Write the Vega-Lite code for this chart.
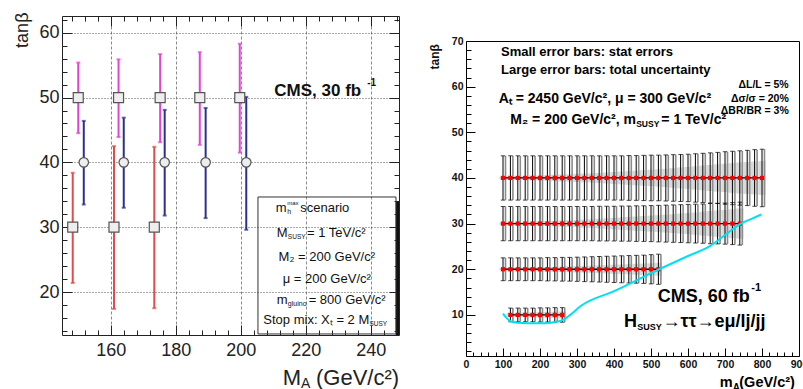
{
"$schema": "https://vega.github.io/schema/vega-lite/v6.json",
"padding": {"left": 12, "top": 10, "right": 0, "bottom": 0},
"background": "white",
"config": {"font": "Liberation Sans", "view": {"stroke": null}},
"datasets": {
"leftbars": [
{"s":"30","x":148.3,"y":30,"lo":21.4,"hi":38.4},
{"s":"30","x":161.0,"y":30,"lo":17.4,"hi":42.5},
{"s":"30","x":173.4,"y":30,"lo":17.5,"hi":42.4},
{"s":"50","x":150.0,"y":50,"lo":44.5,"hi":55.4},
{"s":"50","x":162.4,"y":50,"lo":43.9,"hi":55.9},
{"s":"50","x":175.2,"y":50,"lo":43.1,"hi":56.7},
{"s":"50","x":187.4,"y":50,"lo":42.7,"hi":57.0},
{"s":"50","x":199.7,"y":50,"lo":41.5,"hi":58.3},
{"s":"40","x":151.7,"y":40,"lo":33.5,"hi":46.4},
{"s":"40","x":164.0,"y":40,"lo":33.0,"hi":46.9},
{"s":"40","x":176.6,"y":40,"lo":31.8,"hi":48.1},
{"s":"40","x":189.2,"y":40,"lo":31.4,"hi":48.4},
{"s":"40","x":201.7,"y":40,"lo":29.6,"hi":50.1}
],
"right": [
{"g":40,"x":100,"lo":35.15,"hi":44.85,"slo":39.7,"shi":40.3},
{"g":40,"x":120,"lo":35.15,"hi":44.85,"slo":39.65,"shi":40.35},
{"g":40,"x":140,"lo":35.15,"hi":44.85,"slo":39.6,"shi":40.4},
{"g":40,"x":160,"lo":35.15,"hi":44.85,"slo":39.55,"shi":40.45},
{"g":40,"x":180,"lo":35.15,"hi":44.85,"slo":39.5,"shi":40.5},
{"g":40,"x":200,"lo":35.15,"hi":44.85,"slo":39.45,"shi":40.55},
{"g":40,"x":220,"lo":35.15,"hi":44.85,"slo":39.4,"shi":40.6},
{"g":40,"x":240,"lo":35.15,"hi":44.85,"slo":39.3,"shi":40.7},
{"g":40,"x":260,"lo":35.15,"hi":44.85,"slo":39.25,"shi":40.75},
{"g":40,"x":280,"lo":35.15,"hi":44.85,"slo":39.2,"shi":40.8},
{"g":40,"x":300,"lo":35.15,"hi":44.85,"slo":39.1,"shi":40.9},
{"g":40,"x":320,"lo":35.15,"hi":44.85,"slo":39.05,"shi":40.95},
{"g":40,"x":340,"lo":35.15,"hi":44.85,"slo":39.0,"shi":41.0},
{"g":40,"x":360,"lo":35.15,"hi":44.85,"slo":38.9,"shi":41.1},
{"g":40,"x":380,"lo":35.15,"hi":44.85,"slo":38.8,"shi":41.2},
{"g":40,"x":400,"lo":35.15,"hi":44.85,"slo":38.7,"shi":41.3},
{"g":40,"x":420,"lo":35.15,"hi":44.85,"slo":38.6,"shi":41.4},
{"g":40,"x":440,"lo":35.1,"hi":44.9,"slo":38.5,"shi":41.5},
{"g":40,"x":460,"lo":35.1,"hi":44.9,"slo":38.4,"shi":41.6},
{"g":40,"x":480,"lo":35.05,"hi":44.95,"slo":38.3,"shi":41.7},
{"g":40,"x":500,"lo":35.0,"hi":45.0,"slo":38.2,"shi":41.8},
{"g":40,"x":520,"lo":35.0,"hi":45.0,"slo":38.1,"shi":41.9},
{"g":40,"x":540,"lo":34.95,"hi":45.05,"slo":38.0,"shi":42.0},
{"g":40,"x":560,"lo":34.9,"hi":45.1,"slo":37.85,"shi":42.15},
{"g":40,"x":580,"lo":34.85,"hi":45.15,"slo":37.7,"shi":42.3},
{"g":40,"x":600,"lo":34.8,"hi":45.2,"slo":37.6,"shi":42.4},
{"g":40,"x":620,"lo":34.7,"hi":45.3,"slo":37.45,"shi":42.55},
{"g":40,"x":640,"lo":34.6,"hi":45.4,"slo":37.3,"shi":42.7},
{"g":40,"x":660,"lo":34.5,"hi":45.5,"slo":37.15,"shi":42.85},
{"g":40,"x":680,"lo":34.4,"hi":45.6,"slo":37.0,"shi":43.0},
{"g":40,"x":700,"lo":34.25,"hi":45.75,"slo":36.9,"shi":43.1},
{"g":40,"x":720,"lo":34.15,"hi":45.85,"slo":36.75,"shi":43.25},
{"g":40,"x":740,"lo":34.05,"hi":45.95,"slo":36.6,"shi":43.4},
{"g":40,"x":760,"lo":33.95,"hi":46.05,"slo":36.5,"shi":43.5},
{"g":40,"x":780,"lo":33.8,"hi":46.2,"slo":36.4,"shi":43.6},
{"g":40,"x":800,"lo":33.7,"hi":46.3,"slo":36.3,"shi":43.7},
{"g":30,"x":100,"lo":26.25,"hi":33.75,"slo":29.75,"shi":30.25},
{"g":30,"x":120,"lo":26.25,"hi":33.75,"slo":29.7,"shi":30.3},
{"g":30,"x":140,"lo":26.25,"hi":33.75,"slo":29.65,"shi":30.35},
{"g":30,"x":160,"lo":26.25,"hi":33.75,"slo":29.6,"shi":30.4},
{"g":30,"x":180,"lo":26.25,"hi":33.75,"slo":29.55,"shi":30.45},
{"g":30,"x":200,"lo":26.25,"hi":33.75,"slo":29.5,"shi":30.5},
{"g":30,"x":220,"lo":26.25,"hi":33.75,"slo":29.45,"shi":30.55},
{"g":30,"x":240,"lo":26.25,"hi":33.75,"slo":29.4,"shi":30.6},
{"g":30,"x":260,"lo":26.25,"hi":33.75,"slo":29.3,"shi":30.7},
{"g":30,"x":280,"lo":26.25,"hi":33.75,"slo":29.25,"shi":30.75},
{"g":30,"x":300,"lo":26.25,"hi":33.75,"slo":29.2,"shi":30.8},
{"g":30,"x":320,"lo":26.25,"hi":33.75,"slo":29.1,"shi":30.9},
{"g":30,"x":340,"lo":26.25,"hi":33.75,"slo":29.05,"shi":30.95},
{"g":30,"x":360,"lo":26.2,"hi":33.8,"slo":28.95,"shi":31.05},
{"g":30,"x":380,"lo":26.2,"hi":33.8,"slo":28.85,"shi":31.15},
{"g":30,"x":400,"lo":26.2,"hi":33.8,"slo":28.75,"shi":31.25},
{"g":30,"x":420,"lo":26.15,"hi":33.85,"slo":28.65,"shi":31.35},
{"g":30,"x":440,"lo":26.15,"hi":33.85,"slo":28.55,"shi":31.45},
{"g":30,"x":460,"lo":26.1,"hi":33.9,"slo":28.45,"shi":31.55},
{"g":30,"x":480,"lo":26.1,"hi":33.9,"slo":28.35,"shi":31.65},
{"g":30,"x":500,"lo":26.05,"hi":33.95,"slo":28.25,"shi":31.75},
{"g":30,"x":520,"lo":26.0,"hi":34.0,"slo":28.15,"shi":31.85},
{"g":30,"x":540,"lo":25.95,"hi":34.05,"slo":28.05,"shi":31.95},
{"g":30,"x":560,"lo":25.9,"hi":34.1,"slo":27.95,"shi":32.05},
{"g":30,"x":580,"lo":25.85,"hi":34.15,"slo":27.8,"shi":32.2},
{"g":30,"x":600,"lo":25.8,"hi":34.2,"slo":27.7,"shi":32.3},
{"g":30,"x":620,"lo":25.75,"hi":34.25,"slo":27.55,"shi":32.45},
{"g":30,"x":640,"lo":25.7,"hi":34.3,"slo":27.4,"shi":32.6},
{"g":30,"x":660,"lo":25.6,"hi":34.4,"slo":27.25,"shi":32.75},
{"g":30,"x":680,"lo":25.55,"hi":34.45,"slo":27.1,"shi":32.9},
{"g":30,"x":700,"lo":25.5,"hi":34.5,"slo":27.0,"shi":33.0},
{"g":30,"x":720,"lo":25.4,"hi":34.6,"slo":26.85,"shi":33.15},
{"g":30,"x":740,"lo":25.3,"hi":34.7,"slo":26.7,"shi":33.3},
{"g":20,"x":100,"lo":17.5,"hi":22.5,"slo":19.8,"shi":20.2},
{"g":20,"x":120,"lo":17.5,"hi":22.5,"slo":19.75,"shi":20.25},
{"g":20,"x":140,"lo":17.5,"hi":22.5,"slo":19.7,"shi":20.3},
{"g":20,"x":160,"lo":17.5,"hi":22.5,"slo":19.65,"shi":20.35},
{"g":20,"x":180,"lo":17.5,"hi":22.5,"slo":19.6,"shi":20.4},
{"g":20,"x":200,"lo":17.5,"hi":22.5,"slo":19.55,"shi":20.45},
{"g":20,"x":220,"lo":17.45,"hi":22.55,"slo":19.5,"shi":20.5},
{"g":20,"x":240,"lo":17.45,"hi":22.55,"slo":19.45,"shi":20.55},
{"g":20,"x":260,"lo":17.4,"hi":22.6,"slo":19.4,"shi":20.6},
{"g":20,"x":280,"lo":17.4,"hi":22.6,"slo":19.35,"shi":20.65},
{"g":20,"x":300,"lo":17.35,"hi":22.65,"slo":19.3,"shi":20.7},
{"g":20,"x":320,"lo":17.3,"hi":22.7,"slo":19.25,"shi":20.75},
{"g":20,"x":340,"lo":17.25,"hi":22.75,"slo":19.2,"shi":20.8},
{"g":20,"x":360,"lo":17.2,"hi":22.8,"slo":19.15,"shi":20.85},
{"g":20,"x":380,"lo":17.15,"hi":22.85,"slo":19.1,"shi":20.9},
{"g":20,"x":400,"lo":17.1,"hi":22.9,"slo":19.0,"shi":21.0},
{"g":20,"x":420,"lo":17.05,"hi":22.95,"slo":18.95,"shi":21.05},
{"g":20,"x":440,"lo":17.0,"hi":23.0,"slo":18.9,"shi":21.1},
{"g":20,"x":460,"lo":16.95,"hi":23.05,"slo":18.8,"shi":21.2},
{"g":20,"x":480,"lo":16.9,"hi":23.1,"slo":18.75,"shi":21.25},
{"g":20,"x":500,"lo":16.8,"hi":23.2,"slo":18.7,"shi":21.3},
{"g":20,"x":520,"lo":16.7,"hi":23.3,"slo":18.6,"shi":21.4},
{"g":10,"x":120,"lo":8.5,"hi":11.5,"slo":9.6,"shi":10.4},
{"g":10,"x":140,"lo":8.5,"hi":11.5,"slo":9.55,"shi":10.45},
{"g":10,"x":160,"lo":8.5,"hi":11.5,"slo":9.5,"shi":10.5},
{"g":10,"x":180,"lo":8.5,"hi":11.5,"slo":9.45,"shi":10.55},
{"g":10,"x":200,"lo":8.45,"hi":11.55,"slo":9.4,"shi":10.6},
{"g":10,"x":220,"lo":8.45,"hi":11.55,"slo":9.35,"shi":10.65},
{"g":10,"x":240,"lo":8.4,"hi":11.6,"slo":9.3,"shi":10.7},
{"g":10,"x":260,"lo":8.4,"hi":11.6,"slo":9.25,"shi":10.75}
],
"cyan": [
{"x":100,"y":10.3},{"x":110,"y":9.3},{"x":122,"y":8.55},{"x":140,"y":8.3},{"x":167,"y":8.2},{"x":212,"y":8.2},{"x":248,"y":8.55},{"x":265,"y":9.0},{"x":280,"y":9.9},{"x":311,"y":12.0},{"x":400,"y":15.2},{"x":522,"y":20.0},{"x":600,"y":22.9},{"x":658,"y":25.0},{"x":700,"y":27.5},{"x":743,"y":30.0},{"x":770,"y":31.0},{"x":798,"y":32.0}
]
},
"bounds": "flush",
"spacing": 67,
"hconcat": [
{
"width": 337, "height": 319,
"view": {"stroke": "#222222", "strokeWidth": 1},
"resolve": {"axis": {"x": "independent", "y": "independent"}},
"layer": [
{"data": {"name": "leftbars"}, "mark": {"type": "rule", "strokeWidth": 2},
 "encoding": {
  "x": {"field": "x", "type": "quantitative", "scale": {"domain": [145, 248.7], "nice": false, "zero": false, "padding": 0},
   "axis": {"orient": "bottom", "values": [160,180,200,220,240], "grid": true, "gridColor": "#8a8a8a", "gridDash": [3,2], "ticks": false, "domain": false, "labelFontSize": 18, "labelColor": "#222222", "labelPadding": 6, "labelFlush": false, "title": null}},
  "y": {"field": "lo", "type": "quantitative", "scale": {"domain": [13.37, 62.58], "nice": false, "zero": false, "padding": 0},
   "axis": {"orient": "left", "values": [20,30,40,50,60], "grid": true, "gridColor": "#555555", "gridDash": [1,2], "ticks": false, "domain": false, "labelFontSize": 18, "labelColor": "#222222", "labelPadding": 3, "title": "tanβ", "titleFontSize": 18, "titleFontWeight": "normal", "titleColor": "#222222", "titleAngle": 270, "titleX": -40, "titleY": -4, "titleAlign": "right", "titleBaseline": "middle"}},
  "y2": {"field": "hi"},
  "color": {"field": "s", "type": "nominal", "scale": {"domain": ["30","50","40"], "range": ["#e34a4a","#e243d6","#2b2f8f"]}, "legend": null}
 }},
{"data": {"name": "leftbars"}, "mark": {"type": "tick", "orient": "horizontal", "size": 4, "thickness": 2},
 "encoding": {
  "x": {"field": "x", "type": "quantitative",
   "axis": {"orient": "bottom", "values": [160,180,200,220,240], "labels": false, "domain": false, "grid": false, "ticks": true, "tickSize": -10, "tickColor": "#222222", "title": null}},
  "y": {"field": "lo", "type": "quantitative",
   "axis": {"orient": "left", "values": [20,30,40,50,60], "labels": false, "domain": false, "grid": false, "ticks": true, "tickSize": -10, "tickColor": "#222222", "title": null}},
  "color": {"field": "s", "type": "nominal", "scale": {"domain": ["30","50","40"], "range": ["#e34a4a","#e243d6","#2b2f8f"]}, "legend": null}
 }},
{"data": {"name": "leftbars"}, "mark": {"type": "tick", "orient": "horizontal", "size": 4, "thickness": 2},
 "encoding": {
  "x": {"field": "x", "type": "quantitative",
   "axis": {"orient": "bottom", "values": [148,152,156,160,164,168,172,176,180,184,188,192,196,200,204,208,212,216,220,224,228,232,236,240,244,248], "labels": false, "domain": false, "grid": false, "ticks": true, "tickSize": -5, "tickColor": "#222222", "title": null}},
  "y": {"field": "hi", "type": "quantitative",
   "axis": {"orient": "left", "values": [14,16,18,20,22,24,26,28,30,32,34,36,38,40,42,44,46,48,50,52,54,56,58,60,62], "labels": false, "domain": false, "grid": false, "ticks": true, "tickSize": -5, "tickColor": "#222222", "title": null}},
  "color": {"field": "s", "type": "nominal", "scale": {"domain": ["30","50","40"], "range": ["#e34a4a","#e243d6","#2b2f8f"]}, "legend": null}
 }},
{"data": {"name": "leftbars"}, "transform": [{"filter": "datum.s != '40'"}],
 "mark": {"type": "point", "shape": "square", "filled": true, "fill": "#eeeeee", "stroke": "#555555", "strokeWidth": 1.2, "size": 100, "opacity": 1},
 "encoding": {
  "x": {"field": "x", "type": "quantitative",
   "axis": {"orient": "top", "values": [160,180,200,220,240], "labels": false, "domain": false, "grid": false, "ticks": true, "tickSize": -10, "tickColor": "#222222", "title": null}},
  "y": {"field": "y", "type": "quantitative",
   "axis": {"orient": "right", "values": [20,30,40,50,60], "labels": false, "domain": false, "grid": false, "ticks": true, "tickSize": -10, "tickColor": "#222222", "title": null}}
 }},
{"data": {"name": "leftbars"}, "transform": [{"filter": "datum.s == '40'"}],
 "mark": {"type": "point", "shape": "circle", "filled": true, "fill": "#eeeeee", "stroke": "#555555", "strokeWidth": 1.2, "size": 90, "opacity": 1},
 "encoding": {
  "x": {"field": "x", "type": "quantitative",
   "axis": {"orient": "top", "values": [148,152,156,160,164,168,172,176,180,184,188,192,196,200,204,208,212,216,220,224,228,232,236,240,244,248], "labels": false, "domain": false, "grid": false, "ticks": true, "tickSize": -5, "tickColor": "#222222", "title": null}},
  "y": {"field": "y", "type": "quantitative",
   "axis": {"orient": "right", "values": [14,16,18,20,22,24,26,28,30,32,34,36,38,40,42,44,46,48,50,52,54,56,58,60,62], "labels": false, "domain": false, "grid": false, "ticks": true, "tickSize": -5, "tickColor": "#222222", "title": null}}
 }},
{"data": {"values": [{}]}, "mark": {"type": "rect", "fill": "#111111"},
 "encoding": {"x": {"datum": 247.7, "type": "quantitative", "axis": null}, "x2": {"datum": 248.7}, "y": {"datum": 13.37, "type": "quantitative", "axis": null}, "y2": {"datum": 33.9}}},
{"data": {"values": [{}]}, "mark": {"type": "rect", "fill": "white", "fillOpacity": 0, "stroke": "#333333", "strokeWidth": 1},
 "encoding": {"x": {"datum": 205.3, "type": "quantitative", "axis": null}, "x2": {"datum": 247.77}, "y": {"datum": 13.53, "type": "quantitative", "axis": null}, "y2": {"datum": 34.66}}},
{"data": {"values": [{}]}, "mark": {"type": "text", "text": "CMS, 30 fb", "align": "left", "baseline": "middle", "fontSize": 17, "fontWeight": "bold", "color": "#111111"},
 "encoding": {"x": {"datum": 210.32, "type": "quantitative", "axis": null}, "y": {"datum": 50.96, "type": "quantitative", "axis": null}}},
{"data": {"values": [{}]}, "mark": {"type": "text", "text": "-1", "align": "left", "baseline": "middle", "fontSize": 10, "fontWeight": "bold", "color": "#111111"},
 "encoding": {"x": {"datum": 238.9, "type": "quantitative", "axis": null}, "y": {"datum": 52.2, "type": "quantitative", "axis": null}}},
{"data": {"values": [{}]}, "mark": {"type": "text", "text": "m", "align": "right", "baseline": "middle", "fontSize": 13, "color": "#111111"},
 "encoding": {"x": {"datum": 214.14, "type": "quantitative", "axis": null}, "y": {"datum": 32.96, "type": "quantitative", "axis": null}}},
{"data": {"values": [{}]}, "mark": {"type": "text", "text": "h", "align": "left", "baseline": "middle", "fontSize": 7, "dy": 4, "color": "#111111"},
 "encoding": {"x": {"datum": 214.3, "type": "quantitative", "axis": null}, "y": {"datum": 32.96, "type": "quantitative", "axis": null}}},
{"data": {"values": [{}]}, "mark": {"type": "text", "text": "max", "align": "left", "baseline": "middle", "fontSize": 6, "dy": -5, "color": "#111111"},
 "encoding": {"x": {"datum": 214.3, "type": "quantitative", "axis": null}, "y": {"datum": 32.96, "type": "quantitative", "axis": null}}},
{"data": {"values": [{}]}, "mark": {"type": "text", "text": "scenario", "align": "left", "baseline": "middle", "fontSize": 13, "color": "#111111"},
 "encoding": {"x": {"datum": 218.3, "type": "quantitative", "axis": null}, "y": {"datum": 32.96, "type": "quantitative", "axis": null}}},
{"data": {"values": [{}]}, "mark": {"type": "text", "text": "M", "align": "right", "baseline": "middle", "fontSize": 13, "color": "#111111"},
 "encoding": {"x": {"datum": 214.45, "type": "quantitative", "axis": null}, "y": {"datum": 29.15, "type": "quantitative", "axis": null}}},
{"data": {"values": [{}]}, "mark": {"type": "text", "text": "SUSY", "align": "left", "baseline": "middle", "fontSize": 6.5, "dy": 4, "color": "#111111"},
 "encoding": {"x": {"datum": 214.5, "type": "quantitative", "axis": null}, "y": {"datum": 29.15, "type": "quantitative", "axis": null}}},
{"data": {"values": [{}]}, "mark": {"type": "text", "text": "= 1 TeV/c²", "align": "left", "baseline": "middle", "fontSize": 13, "color": "#111111"},
 "encoding": {"x": {"datum": 220.4, "type": "quantitative", "axis": null}, "y": {"datum": 29.15, "type": "quantitative", "axis": null}}},
{"data": {"values": [{}]}, "mark": {"type": "text", "text": "M₂ = 200 GeV/c²", "align": "center", "baseline": "middle", "fontSize": 13, "color": "#111111"},
 "encoding": {"x": {"datum": 226.48, "type": "quantitative", "axis": null}, "y": {"datum": 25.4, "type": "quantitative", "axis": null}}},
{"data": {"values": [{}]}, "mark": {"type": "text", "text": "μ = 200 GeV/c²", "align": "center", "baseline": "middle", "fontSize": 13, "color": "#111111"},
 "encoding": {"x": {"datum": 226.48, "type": "quantitative", "axis": null}, "y": {"datum": 21.96, "type": "quantitative", "axis": null}}},
{"data": {"values": [{}]}, "mark": {"type": "text", "text": "m", "align": "right", "baseline": "middle", "fontSize": 13, "color": "#111111"},
 "encoding": {"x": {"datum": 214.45, "type": "quantitative", "axis": null}, "y": {"datum": 18.72, "type": "quantitative", "axis": null}}},
{"data": {"values": [{}]}, "mark": {"type": "text", "text": "gluino", "align": "left", "baseline": "middle", "fontSize": 7, "dy": 4, "color": "#111111"},
 "encoding": {"x": {"datum": 214.5, "type": "quantitative", "axis": null}, "y": {"datum": 18.72, "type": "quantitative", "axis": null}}},
{"data": {"values": [{}]}, "mark": {"type": "text", "text": "= 800 GeV/c²", "align": "left", "baseline": "middle", "fontSize": 13, "color": "#111111"},
 "encoding": {"x": {"datum": 220.9, "type": "quantitative", "axis": null}, "y": {"datum": 18.72, "type": "quantitative", "axis": null}}},
{"data": {"values": [{}]}, "mark": {"type": "text", "text": "Stop mix: Xₜ = 2 M", "align": "right", "baseline": "middle", "fontSize": 13, "color": "#111111"},
 "encoding": {"x": {"datum": 239.55, "type": "quantitative", "axis": null}, "y": {"datum": 15.64, "type": "quantitative", "axis": null}}},
{"data": {"values": [{}]}, "mark": {"type": "text", "text": "SUSY", "align": "left", "baseline": "middle", "fontSize": 6.5, "dy": 4, "color": "#111111"},
 "encoding": {"x": {"datum": 239.6, "type": "quantitative", "axis": null}, "y": {"datum": 15.64, "type": "quantitative", "axis": null}}},
{"data": {"values": [{}]}, "mark": {"type": "text", "text": "M", "align": "right", "baseline": "alphabetic", "fontSize": 22, "color": "#222222"},
 "encoding": {"x": {"datum": 218.54, "type": "quantitative", "axis": null}, "y": {"datum": 5.6, "type": "quantitative", "axis": null}}},
{"data": {"values": [{}]}, "mark": {"type": "text", "text": "A", "align": "left", "baseline": "alphabetic", "fontSize": 14, "color": "#222222"},
 "encoding": {"x": {"datum": 218.54, "type": "quantitative", "axis": null}, "y": {"datum": 5.15, "type": "quantitative", "axis": null}}},
{"data": {"values": [{}]}, "mark": {"type": "text", "text": "(GeV/c²)", "align": "left", "baseline": "alphabetic", "fontSize": 22, "color": "#222222"},
 "encoding": {"x": {"datum": 223.15, "type": "quantitative", "axis": null}, "y": {"datum": 5.6, "type": "quantitative", "axis": null}}}
]
},
{
"bounds": "flush",
"spacing": 24,
"vconcat": [
{"width": 333, "height": 1, "view": {"stroke": null}, "data": {"values": [{"a": 1}]}, "mark": {"type": "text", "text": " ", "opacity": 0}, "encoding": {}},
{
"width": 333, "height": 315,
"view": {"stroke": "black", "strokeWidth": 1},
"resolve": {"axis": {"x": "independent", "y": "independent"}},
"layer": [
{"data": {"name": "right"}, "mark": {"type": "bar", "width": 7.4, "color": "#dadada"},
 "encoding": {
  "x": {"field": "x", "type": "quantitative", "scale": {"domain": [0, 900], "nice": false, "zero": false, "padding": 0},
   "axis": {"orient": "bottom", "values": [0,100,200,300,400,500,600,700,800,900], "ticks": false, "domain": false, "grid": false, "labelFontSize": 10.5, "labelFontWeight": "bold", "labelColor": "#111111", "labelPadding": 3, "labelFlush": false, "title": null}},
  "y": {"field": "slo", "type": "quantitative", "scale": {"domain": [1, 70], "nice": false, "zero": false, "padding": 0},
   "axis": {"orient": "left", "values": [10,20,30,40,50,60,70], "ticks": false, "domain": false, "grid": false, "labelFontSize": 10.5, "labelFontWeight": "bold", "labelColor": "#111111", "labelPadding": 3, "title": "tanβ", "titleFontSize": 12, "titleFontWeight": "bold", "titleColor": "#111111", "titleAngle": 270, "titleX": -32, "titleY": 2.7, "titleAlign": "right", "titleBaseline": "middle"}},
  "y2": {"field": "shi"}
 }},
{"data": {"name": "right"}, "mark": {"type": "rule", "color": "#8c8c8c", "strokeWidth": 1.6, "xOffset": 2.5},
 "encoding": {
  "x": {"field": "x", "type": "quantitative",
   "axis": {"orient": "bottom", "values": [0,100,200,300,400,500,600,700,800,900], "labels": false, "domain": false, "grid": false, "ticks": true, "tickSize": -8, "tickColor": "black", "title": null}},
  "y": {"field": "lo", "type": "quantitative",
   "axis": {"orient": "left", "values": [10,20,30,40,50,60,70], "labels": false, "domain": false, "grid": false, "ticks": true, "tickSize": -9, "tickColor": "black", "title": null}},
  "y2": {"field": "hi"}
 }},
{"data": {"name": "right"}, "mark": {"type": "rule", "color": "black", "strokeWidth": 1},
 "encoding": {
  "x": {"field": "x", "type": "quantitative",
   "axis": {"orient": "bottom", "values": [20,40,60,80,100,120,140,160,180,200,220,240,260,280,300,320,340,360,380,400,420,440,460,480,500,520,540,560,580,600,620,640,660,680,700,720,740,760,780,800,820,840,860,880], "labels": false, "domain": false, "grid": false, "ticks": true, "tickSize": -4, "tickColor": "black", "title": null}},
  "y": {"field": "lo", "type": "quantitative",
   "axis": {"orient": "left", "values": [2,4,6,8,10,12,14,16,18,20,22,24,26,28,30,32,34,36,38,40,42,44,46,48,50,52,54,56,58,60,62,64,66,68], "labels": false, "domain": false, "grid": false, "ticks": true, "tickSize": -5, "tickColor": "black", "title": null}},
  "y2": {"field": "hi"}
 }},
{"data": {"name": "right"}, "mark": {"type": "tick", "orient": "horizontal", "size": 4.5, "thickness": 1, "color": "black"},
 "encoding": {"x": {"field": "x", "type": "quantitative", "axis": null}, "y": {"field": "lo", "type": "quantitative", "axis": null}}},
{"data": {"name": "right"}, "mark": {"type": "tick", "orient": "horizontal", "size": 4.5, "thickness": 1, "color": "black"},
 "encoding": {"x": {"field": "x", "type": "quantitative", "axis": null}, "y": {"field": "hi", "type": "quantitative", "axis": null}}},
{"data": {"name": "right"}, "mark": {"type": "line", "color": "black", "strokeWidth": 1.3},
 "encoding": {"x": {"field": "x", "type": "quantitative", "axis": null}, "y": {"field": "g", "type": "quantitative", "axis": null}, "detail": {"field": "g", "type": "nominal"}}},
{"data": {"name": "right"}, "mark": {"type": "point", "shape": "square", "filled": true, "color": "#ff0000", "size": 18, "opacity": 1},
 "encoding": {"x": {"field": "x", "type": "quantitative", "axis": null}, "y": {"field": "g", "type": "quantitative", "axis": null}}},
{"data": {"name": "cyan"}, "mark": {"type": "line", "color": "#00e0f0", "strokeWidth": 2, "interpolate": "monotone"},
 "encoding": {"x": {"field": "x", "type": "quantitative", "axis": null}, "y": {"field": "y", "type": "quantitative", "axis": null}}},
{"data": {"values": [{}]}, "mark": {"type": "text", "text": "Small error bars: stat errors", "align": "left", "baseline": "middle", "fontSize": 13, "fontWeight": "bold", "color": "black"},
 "encoding": {"x": {"datum": 94.6, "type": "quantitative", "axis": null}, "y": {"datum": 67.59, "type": "quantitative", "axis": null}}},
{"data": {"values": [{}]}, "mark": {"type": "text", "text": "Large error bars: total uncertainty", "align": "left", "baseline": "middle", "fontSize": 13, "fontWeight": "bold", "color": "black"},
 "encoding": {"x": {"datum": 94.6, "type": "quantitative", "axis": null}, "y": {"datum": 63.71, "type": "quantitative", "axis": null}}},
{"data": {"values": [{}]}, "mark": {"type": "text", "text": "Aₜ = 2450 GeV/c², μ = 300 GeV/c²", "align": "left", "baseline": "middle", "fontSize": 14, "fontWeight": "bold", "color": "black"},
 "encoding": {"x": {"datum": 88.4, "type": "quantitative", "axis": null}, "y": {"datum": 57.36, "type": "quantitative", "axis": null}}},
{"data": {"values": [{}]}, "mark": {"type": "text", "text": "M₂ = 200 GeV/c², m", "align": "right", "baseline": "middle", "fontSize": 14, "fontWeight": "bold", "color": "black"},
 "encoding": {"x": {"datum": 459.5, "type": "quantitative", "axis": null}, "y": {"datum": 52.76, "type": "quantitative", "axis": null}}},
{"data": {"values": [{}]}, "mark": {"type": "text", "text": "SUSY", "align": "left", "baseline": "middle", "fontSize": 8.5, "fontWeight": "bold", "dy": 4, "color": "black"},
 "encoding": {"x": {"datum": 460, "type": "quantitative", "axis": null}, "y": {"datum": 52.76, "type": "quantitative", "axis": null}}},
{"data": {"values": [{}]}, "mark": {"type": "text", "text": "= 1 TeV/c²", "align": "left", "baseline": "middle", "fontSize": 14, "fontWeight": "bold", "color": "black"},
 "encoding": {"x": {"datum": 528, "type": "quantitative", "axis": null}, "y": {"datum": 52.76, "type": "quantitative", "axis": null}}},
{"data": {"values": [{}]}, "mark": {"type": "text", "text": "ΔL/L = 5%", "align": "right", "baseline": "middle", "fontSize": 10.5, "fontWeight": "bold", "color": "black"},
 "encoding": {"x": {"datum": 872.2, "type": "quantitative", "axis": null}, "y": {"datum": 60.43, "type": "quantitative", "axis": null}}},
{"data": {"values": [{}]}, "mark": {"type": "text", "text": "Δσ/σ = 20%", "align": "right", "baseline": "middle", "fontSize": 10.5, "fontWeight": "bold", "color": "black"},
 "encoding": {"x": {"datum": 872.2, "type": "quantitative", "axis": null}, "y": {"datum": 57.36, "type": "quantitative", "axis": null}}},
{"data": {"values": [{}]}, "mark": {"type": "text", "text": "ΔBR/BR = 3%", "align": "right", "baseline": "middle", "fontSize": 10.5, "fontWeight": "bold", "color": "black"},
 "encoding": {"x": {"datum": 872.2, "type": "quantitative", "axis": null}, "y": {"datum": 54.6, "type": "quantitative", "axis": null}}},
{"data": {"values": [{}]}, "mark": {"type": "text", "text": "CMS, 60 fb", "align": "left", "baseline": "middle", "fontSize": 18, "fontWeight": "bold", "color": "black"},
 "encoding": {"x": {"datum": 518.1, "type": "quantitative", "axis": null}, "y": {"datum": 13.92, "type": "quantitative", "axis": null}}},
{"data": {"values": [{}]}, "mark": {"type": "text", "text": "-1", "align": "left", "baseline": "middle", "fontSize": 11, "fontWeight": "bold", "color": "black"},
 "encoding": {"x": {"datum": 771, "type": "quantitative", "axis": null}, "y": {"datum": 15.79, "type": "quantitative", "axis": null}}},
{"data": {"values": [{}]}, "mark": {"type": "text", "text": "H", "align": "right", "baseline": "middle", "fontSize": 18, "fontWeight": "bold", "color": "black"},
 "encoding": {"x": {"datum": 462.2, "type": "quantitative", "axis": null}, "y": {"datum": 8.45, "type": "quantitative", "axis": null}}},
{"data": {"values": [{}]}, "mark": {"type": "text", "text": "SUSY", "align": "left", "baseline": "middle", "fontSize": 9, "fontWeight": "bold", "dy": 5, "color": "black"},
 "encoding": {"x": {"datum": 463, "type": "quantitative", "axis": null}, "y": {"datum": 8.45, "type": "quantitative", "axis": null}}},
{"data": {"values": [{}]}, "mark": {"type": "text", "text": "→ττ→eμ/lj/jj", "align": "left", "baseline": "middle", "fontSize": 18, "fontWeight": "bold", "color": "black"},
 "encoding": {"x": {"datum": 531, "type": "quantitative", "axis": null}, "y": {"datum": 8.45, "type": "quantitative", "axis": null}}},
{"data": {"values": [{}]}, "mark": {"type": "text", "text": "m", "align": "right", "baseline": "alphabetic", "fontSize": 14.5, "fontWeight": "bold", "color": "black"},
 "encoding": {"x": {"datum": 720.8, "type": "quantitative", "axis": null}, "y": {"datum": -5.75, "type": "quantitative", "axis": null}}},
{"data": {"values": [{}]}, "mark": {"type": "text", "text": "A", "align": "left", "baseline": "alphabetic", "fontSize": 10, "fontWeight": "bold", "color": "black"},
 "encoding": {"x": {"datum": 720.8, "type": "quantitative", "axis": null}, "y": {"datum": -6.6, "type": "quantitative", "axis": null}}},
{"data": {"values": [{}]}, "mark": {"type": "text", "text": "(GeV/c²)", "align": "left", "baseline": "alphabetic", "fontSize": 14.5, "fontWeight": "bold", "color": "black"},
 "encoding": {"x": {"datum": 738.6, "type": "quantitative", "axis": null}, "y": {"datum": -5.75, "type": "quantitative", "axis": null}}}
]
}
]
}
]
}
